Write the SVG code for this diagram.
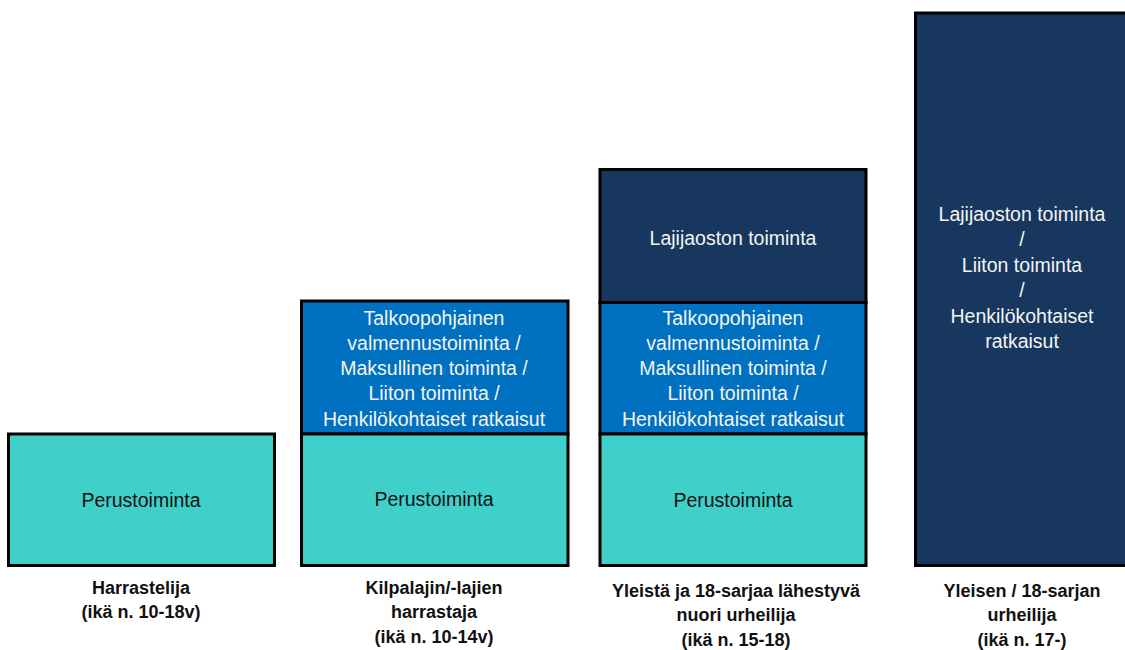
<svg xmlns="http://www.w3.org/2000/svg" width="1125" height="650" viewBox="0 0 1125 650">
<style>
.box{stroke:#000;stroke-width:3}
.teal{fill:#40D0CA}
.blue{fill:#0070C0}
.navy{fill:#17375E}
.t{font-family:"Liberation Sans",Arial,sans-serif;font-size:19.5px;text-anchor:middle}
.dk{fill:#111}
.wt{fill:#F4F4F4}
.lbl{font-family:"Liberation Sans",Arial,sans-serif;font-size:18px;font-weight:bold;text-anchor:middle;fill:#111}
</style>
<rect width="1125" height="650" fill="#fff"/>
<g id="node-harrastelija">
<rect class="box teal" x="8.5" y="434" width="266" height="131.5"/>
<text class="t dk" x="141" y="507">Perustoiminta</text>
<text class="lbl" x="141" y="594">Harrastelija</text>
<text class="lbl" x="141" y="618">(ikä n. 10-18v)</text>
</g>
<g id="node-kilpalajin">
<rect class="box blue" x="301.5" y="301" width="266.5" height="133"/>
<rect class="box teal" x="301.5" y="434" width="266.5" height="131.5"/>
<text class="t wt" x="434" y="325">Talkoopohjainen</text>
<text class="t wt" x="434" y="350">valmennustoiminta /</text>
<text class="t wt" x="434" y="375">Maksullinen toiminta /</text>
<text class="t wt" x="434" y="400">Liiton toiminta /</text>
<text class="t wt" x="434" y="426">Henkilökohtaiset ratkaisut</text>
<text class="t dk" x="434" y="506">Perustoiminta</text>
<text class="lbl" x="434" y="594">Kilpalajin/-lajien</text>
<text class="lbl" x="434" y="618">harrastaja</text>
<text class="lbl" x="434" y="643">(ikä n. 10-14v)</text>
</g>
<g id="node-yleista">
<rect class="box navy" x="600" y="169.5" width="266" height="133"/>
<rect class="box blue" x="600" y="302.5" width="266" height="131.5"/>
<rect class="box teal" x="600" y="434" width="266" height="131.5"/>
<text class="t wt" x="733" y="245">Lajijaoston toiminta</text>
<text class="t wt" x="733" y="325">Talkoopohjainen</text>
<text class="t wt" x="733" y="350">valmennustoiminta /</text>
<text class="t wt" x="733" y="375">Maksullinen toiminta /</text>
<text class="t wt" x="733" y="400">Liiton toiminta /</text>
<text class="t wt" x="733" y="426">Henkilökohtaiset ratkaisut</text>
<text class="t dk" x="733" y="507">Perustoiminta</text>
<text class="lbl" x="736" y="597">Yleistä ja 18-sarjaa lähestyvä</text>
<text class="lbl" x="736" y="621">nuori urheilija</text>
<text class="lbl" x="736" y="646">(ikä n. 15-18)</text>
</g>
<g id="node-yleisen">
<rect class="box navy" x="915.5" y="13" width="215" height="552.5"/>
<text class="t wt" x="1022" y="221">Lajijaoston toiminta</text>
<text class="t wt" x="1022" y="246">/</text>
<text class="t wt" x="1022" y="272">Liiton toiminta</text>
<text class="t wt" x="1022" y="297">/</text>
<text class="t wt" x="1022" y="323">Henkilökohtaiset</text>
<text class="t wt" x="1022" y="348">ratkaisut</text>
<text class="lbl" x="1022" y="597">Yleisen / 18-sarjan</text>
<text class="lbl" x="1022" y="621">urheilija</text>
<text class="lbl" x="1022" y="646">(ikä n. 17-)</text>
</g>
</svg>
